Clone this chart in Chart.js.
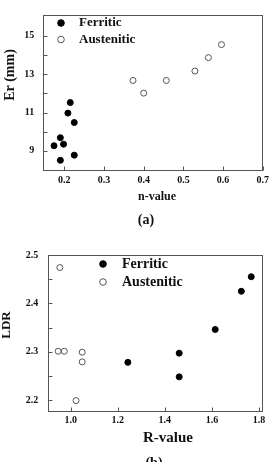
<!DOCTYPE html>
<html>
<head>
<meta charset="utf-8">
<script src="https://cdn.jsdelivr.net/npm/chart.js@4.4.0/dist/chart.umd.min.js"></script>
<style>
  html, body { margin: 0; padding: 0; background: #fff; }
  #wrap { width: 273px; height: 462px; position: relative; overflow: hidden; }
  .panel { position: absolute; left: 0; width: 273px; }
</style>
</head>
<body>
<div id="wrap">
  <div class="panel" style="top:0;height:230px"><canvas id="chartA" width="273" height="230"></canvas></div>
  <div class="panel" style="top:230px;height:232px"><canvas id="chartB" width="273" height="232"></canvas></div>
</div>
<script>
// panel (a): Er vs n-value
const ferriticN = [0.215, 0.209, 0.225, 0.190, 0.174, 0.198, 0.225, 0.190];
const ferriticEr = [11.52, 10.97, 10.48, 9.69, 9.27, 9.35, 8.78, 8.51];
const austeniticN = [0.373, 0.400, 0.457, 0.529, 0.563, 0.596];
const austeniticEr = [12.67, 12.01, 12.67, 13.16, 13.86, 14.54];
const nTicks = [0.2, 0.3, 0.4, 0.5, 0.6, 0.7];
const nLabels = ['0.2', '0.3', '0.4', '0.5', '0.6', '0.7'];
const erTicks = [9, 10, 11, 12, 13, 14, 15];
const erLabels = ['9', '', '11', '', '13', '', '15'];

// panel (b): LDR vs R-value
const ferriticR = [1.243, 1.461, 1.461, 1.614, 1.725, 1.767];
const ferriticLDR = [2.278, 2.297, 2.248, 2.346, 2.425, 2.455];
const austeniticR = [0.954, 0.947, 0.973, 1.049, 1.049, 1.023];
const austeniticLDR = [2.474, 2.301, 2.301, 2.299, 2.279, 2.199];
const rTicks = [1.0, 1.2, 1.4, 1.6, 1.8];
const rLabels = ['1.0', '1.2', '1.4', '1.6', '1.8'];
const ldrTicks = [2.2, 2.25, 2.3, 2.35, 2.4, 2.45, 2.5];
const ldrLabels = ['2.2', '', '2.3', '', '2.4', '', '2.5'];

const seriesNames = ['Ferritic', 'Austenitic'];

const SERIF = "'Liberation Serif', 'DejaVu Serif', serif";

function toPoints(xs, ys) {
  return xs.map((x, i) => ({ x: x, y: ys[i] }));
}

// box, inward tick marks, legend and free text
const framePlugin = {
  id: 'frame',
  afterDraw(chart, args, opts) {
    const { ctx, chartArea: a, scales } = chart;
    ctx.save();
    ctx.strokeStyle = '#555';
    ctx.lineWidth = 1;
    const L = Math.round(a.left) + 0.5, R = Math.round(a.right) - 0.5;
    const T = Math.round(a.top) + 0.5, B = Math.round(a.bottom) - 0.5;
    ctx.strokeRect(L, T, R - L, B - T);
    ctx.beginPath();
    scales.x.ticks.forEach(t => {
      const px = Math.round(scales.x.getPixelForValue(t.value)) + 0.5;
      ctx.moveTo(px, B); ctx.lineTo(px, B - 4);
    });
    scales.y.ticks.forEach(t => {
      const py = Math.round(scales.y.getPixelForValue(t.value)) + 0.5;
      ctx.moveTo(L, py); ctx.lineTo(L + 4, py);
    });
    ctx.stroke();

    // legend
    const lg = opts.legend;
    chart.data.datasets.forEach((ds, i) => {
      const y = lg.y + i * lg.gap;
      ctx.fillStyle = ds.backgroundColor;
      ctx.strokeStyle = ds.borderColor;
      ctx.lineWidth = ds.borderWidth;
      Chart.helpers.drawPoint(ctx, { pointStyle: 'circle', radius: ds.pointRadius + 0.3, borderWidth: ds.borderWidth }, lg.x, y);
      ctx.fillStyle = '#111';
      ctx.font = lg.font;
      ctx.textAlign = 'left';
      ctx.textBaseline = 'middle';
      ctx.fillText(ds.label, lg.textX, y);
    });

    // titles
    opts.texts.forEach(t => {
      ctx.save();
      ctx.fillStyle = '#111';
      ctx.font = t.font;
      ctx.textAlign = 'center';
      ctx.textBaseline = 'middle';
      ctx.translate(t.x, t.y);
      if (t.rot) ctx.rotate(t.rot);
      ctx.fillText(t.text, 0, 0);
      ctx.restore();
    });
    ctx.restore();
  }
};

function filled(label, data) {
  return {
    label: label, data: data,
    backgroundColor: '#000', borderColor: '#000', borderWidth: 1,
    pointRadius: 3, pointHoverRadius: 3
  };
}
function open(label, data) {
  return {
    label: label, data: data,
    backgroundColor: 'rgba(255,255,255,0)', borderColor: '#555', borderWidth: 1,
    pointRadius: 3, pointHoverRadius: 3
  };
}

function axis(min, max, tickVals, tickLabels, fit, pad) {
  return {
    type: 'linear', min: min, max: max,
    afterBuildTicks: s => { s.ticks = tickVals.map(v => ({ value: v })); },
    afterFit: fit,
    grid: { display: false, drawTicks: false },
    border: { display: false },
    ticks: {
      padding: pad, autoSkip: false, maxRotation: 0, color: '#111',
      font: { family: SERIF, size: 10, weight: 'bold' },
      callback: (v, i) => tickLabels[i]
    }
  };
}

new Chart(document.getElementById('chartA'), {
  type: 'scatter',
  data: {
    datasets: [
      filled(seriesNames[0], toPoints(ferriticN, ferriticEr)),
      open(seriesNames[1], toPoints(austeniticN, austeniticEr))
    ]
  },
  options: {
    responsive: false, animation: false, devicePixelRatio: 1,
    layout: { padding: { top: 5, right: 5, left: 0, bottom: 0 } },
    scales: {
      x: axis(0.147, 0.7, nTicks, nLabels, s => { s.height = 59.5; }, 4),
      y: axis(7.98, 16.08, erTicks, erLabels, s => { s.width = 43.3; }, 9)
    },
    plugins: {
      legend: { display: false },
      tooltip: { enabled: false },
      frame: {
        legend: { x: 61, y: 23, gap: 16.5, textX: 79, font: 'bold 13px ' + SERIF },
        texts: [
          { text: 'Er (mm)', x: 10, y: 75, rot: -Math.PI / 2, font: 'bold 14px ' + SERIF },
          { text: 'n-value', x: 157, y: 197, font: 'bold 12px ' + SERIF },
          { text: '(a)', x: 146, y: 220, font: 'bold 14px ' + SERIF }
        ]
      }
    }
  },
  plugins: [framePlugin]
});

new Chart(document.getElementById('chartB'), {
  type: 'scatter',
  data: {
    datasets: [
      filled(seriesNames[0], toPoints(ferriticR, ferriticLDR)),
      open(seriesNames[1], toPoints(austeniticR, austeniticLDR))
    ]
  },
  options: {
    responsive: false, animation: false, devicePixelRatio: 1,
    layout: { padding: { top: 24.5, right: 10, left: 0, bottom: 0 } },
    scales: {
      x: axis(0.905, 1.817, rTicks, rLabels, s => { s.height = 50.3; }, 3),
      y: axis(2.176, 2.501, ldrTicks, ldrLabels, s => { s.width = 48.3; }, 10)
    },
    plugins: {
      legend: { display: false },
      tooltip: { enabled: false },
      frame: {
        legend: { x: 103, y: 34, gap: 18, textX: 122, font: 'bold 14px ' + SERIF },
        texts: [
          { text: 'LDR', x: 7, y: 95, rot: -Math.PI / 2, font: 'bold 13px ' + SERIF },
          { text: 'R-value', x: 168, y: 208, font: 'bold 15px ' + SERIF },
          { text: '(b)', x: 154, y: 233, font: 'bold 14px ' + SERIF }
        ]
      }
    }
  },
  plugins: [framePlugin]
});
</script>
</body>
</html>
